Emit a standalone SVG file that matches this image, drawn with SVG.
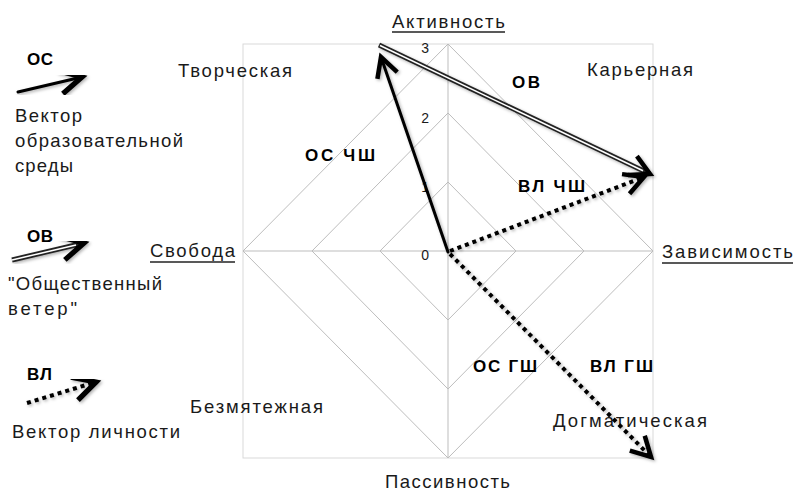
<svg xmlns="http://www.w3.org/2000/svg" width="795" height="492" viewBox="0 0 795 492">
<style>
text{font-family:"Liberation Sans",Arial,sans-serif;fill:#1a1a1a}
.lbl{font-size:18.5px}
.tick{font-size:14px;text-anchor:end}
.b{font-size:17px;font-weight:bold;fill:#000}
.grid{stroke:#bdbdbd;stroke-width:1;fill:none}
.frame{stroke:#d9d9d9;stroke-width:1;fill:none}
.ul{stroke:#222;stroke-width:1.3}
.solid{stroke:#000;stroke-width:3;fill:none;stroke-linecap:round}
.dbl{stroke:#222;stroke-width:5;fill:none}
.dblin{stroke:#fff;stroke-width:1.5;fill:none}
.dot{stroke:#000;stroke-width:4;fill:none;stroke-dasharray:4 4}
</style>
<defs>
<marker id="ah" markerUnits="userSpaceOnUse" markerWidth="30" markerHeight="30" viewBox="-16 -10 20 20" refX="0" refY="0" orient="auto" overflow="visible">
<path d="M-13,-7 L0,0 L-13,7" fill="none" stroke="#000" stroke-width="3" stroke-linejoin="miter"/>
</marker>
<marker id="ahL" markerUnits="userSpaceOnUse" markerWidth="30" markerHeight="30" viewBox="-16 -10 20 20" refX="0" refY="0" orient="auto" overflow="visible">
<path d="M-15,-8 L0,0 L-15,8" fill="none" stroke="#000" stroke-width="3.5" stroke-linejoin="miter"/>
</marker>
<filter id="sh" x="-10%" y="-10%" width="130%" height="130%">
<feDropShadow dx="1.5" dy="1.5" stdDeviation="1.5" flood-color="#000" flood-opacity="0.3"/>
</filter>
</defs>
<rect width="795" height="492" fill="#fff"/>

<g id="grid">
<rect class="frame" x="243" y="44" width="410" height="414"/>
<line class="grid" x1="448" y1="44" x2="448" y2="458"/>
<line class="grid" x1="243" y1="251" x2="653" y2="251"/>
<polygon class="grid" points="448,44 653,251 448,458 243,251"/>
<polygon class="grid" points="448,113 584,251 448,389 312,251"/>
<polygon class="grid" points="448,182 516,251 448,320 380,251"/>
<text class="tick" x="429" y="53">3</text>
<text class="tick" x="429" y="123">2</text>
<text class="tick" x="429" y="192">1</text>
<text class="tick" x="429" y="260">0</text>
</g>

<g id="axis-labels">
<g id="aktivnost"><text class="lbl" x="392" y="28" textLength="113" lengthAdjust="spacing">Активность</text><line class="ul" x1="392" y1="32" x2="505" y2="32"/></g>
<g id="zavisimost"><text class="lbl" x="662" y="258" textLength="131" lengthAdjust="spacing">Зависимость</text><line class="ul" x1="662" y1="263" x2="793" y2="263"/></g>
<g id="svoboda"><text class="lbl" x="150" y="257" textLength="85" lengthAdjust="spacing">Свобода</text><line class="ul" x1="150" y1="262" x2="235" y2="262"/></g>
<g id="passivnost"><text class="lbl" x="385" y="488" textLength="125" lengthAdjust="spacing">Пассивность</text></g>
</g>

<g id="quadrants">
<text id="tvorcheskaya" class="lbl" x="178" y="77" textLength="114" lengthAdjust="spacing">Творческая</text>
<text id="karyernaya" class="lbl" x="587" y="76" textLength="106" lengthAdjust="spacing">Карьерная</text>
<text id="bezmyatezhnaya" class="lbl" x="190" y="413" textLength="133" lengthAdjust="spacing">Безмятежная</text>
<text id="dogmaticheskaya" class="lbl" x="553" y="427" textLength="154" lengthAdjust="spacing">Догматическая</text>
</g>

<g id="connectors" filter="url(#sh)">
<g id="vec-os-chsh"><line class="solid" x1="448" y1="252" x2="381" y2="57" marker-end="url(#ah)"/></g>
<g id="vec-ov"><line class="dbl" x1="379" y1="45" x2="650" y2="174" marker-end="url(#ah)"/><line class="dblin" x1="380" y1="45.5" x2="643" y2="170.7"/></g>
<g id="vec-vl-chsh"><line class="dot" x1="450" y1="251" x2="644" y2="177" marker-end="url(#ah)"/></g>
<g id="vec-vl-gsh"><line class="dot" x1="450" y1="254" x2="651" y2="457" marker-end="url(#ah)"/></g>
</g>

<g id="vector-labels">
<text class="b" x="512" y="88" textLength="28" lengthAdjust="spacing">ОВ</text>
<text class="b" x="305" y="161" textLength="70" lengthAdjust="spacing">ОС ЧШ</text>
<text class="b" x="518" y="192" textLength="67" lengthAdjust="spacing">ВЛ ЧШ</text>
<text class="b" x="473" y="372" textLength="64" lengthAdjust="spacing">ОС ГШ</text>
<text class="b" x="590" y="372" textLength="63" lengthAdjust="spacing">ВЛ ГШ</text>
</g>

<g id="legend">
<g id="legend-os">
<text class="b" x="27" y="65" textLength="26" lengthAdjust="spacing">ОС</text>
<line class="solid" x1="18" y1="92" x2="82" y2="77" stroke-width="3.5" marker-end="url(#ahL)" filter="url(#sh)"/>
<text class="lbl" x="15" y="122" textLength="67" lengthAdjust="spacing">Вектор</text>
<text class="lbl" x="15" y="147" textLength="168" lengthAdjust="spacing">образовательной</text>
<text class="lbl" x="15" y="172" textLength="58" lengthAdjust="spacing">среды</text>
</g>
<g id="legend-ov">
<text class="b" x="27" y="242" textLength="26" lengthAdjust="spacing">ОВ</text>
<g filter="url(#sh)"><line class="dbl" x1="12" y1="260" x2="84" y2="243" marker-end="url(#ahL)"/><line class="dblin" x1="12" y1="260" x2="76" y2="244.9"/></g>
<text class="lbl" x="8" y="290" textLength="154" lengthAdjust="spacing">"Общественный</text>
<text class="lbl" x="8" y="315" textLength="69" lengthAdjust="spacing">ветер"</text>
</g>
<g id="legend-vl">
<text class="b" x="27" y="380" textLength="25" lengthAdjust="spacing">ВЛ</text>
<line class="dot" x1="27" y1="403" x2="96" y2="382" marker-end="url(#ahL)" filter="url(#sh)"/>
<text class="lbl" x="12" y="438" textLength="168" lengthAdjust="spacing">Вектор личности</text>
</g>
</g>
</svg>
